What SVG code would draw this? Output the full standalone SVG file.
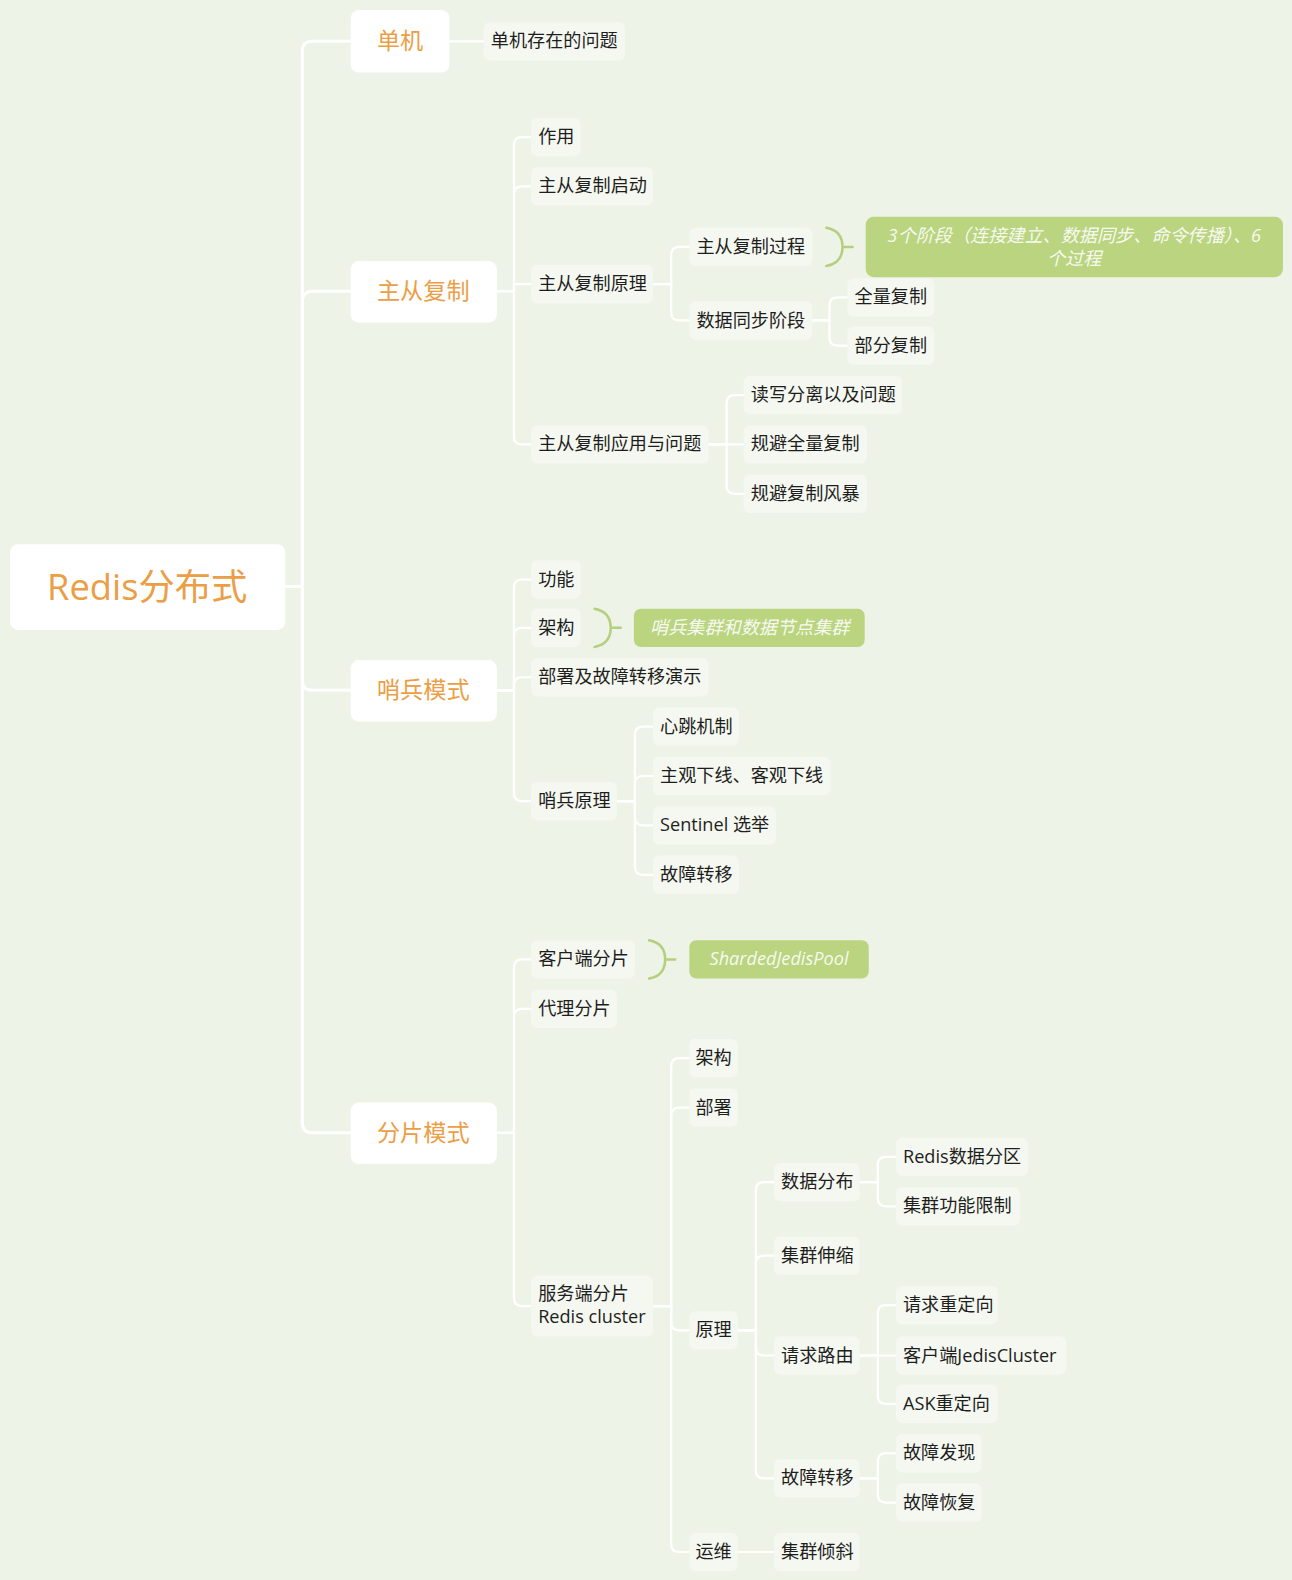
<svg xmlns="http://www.w3.org/2000/svg" width="1292" height="1580" viewBox="0 0 1292 1580">
<style>
text{font-family:"Open Sans","Noto Sans CJK SC",sans-serif}
.bg{fill:#eef3e7}
.main{fill:#ffffff}
.leaf{fill:#f5f8f0}
.t0{font-size:36px;fill:#eb9e45}
.t1{font-size:23px;fill:#eb9e45}
.t2{font-size:18px;fill:#1e1e1e}
.sum{fill:#bad480}
.ts{font-size:18px;fill:#ffffff;fill-opacity:0.9;font-style:italic}
.ln{fill:none;stroke:#ffffff;stroke-width:2.2;stroke-linecap:round}
.ln0{fill:none;stroke:#ffffff;stroke-width:3}
.br{fill:none;stroke:#b6cf7e;stroke-width:2.5;stroke-linecap:round}
</style>
<rect class="bg" x="0" y="0" width="1292" height="1580"/>
<g transform="scale(1.0078)">
<g id="connectors">
<path class="ln0" d="M283 582 H300 V51 Q300 41 310 41 H348"/>
<path class="ln0" d="M283 582 H300 V299 Q300 289 310 289 H348"/>
<path class="ln0" d="M283 582 H300 V675 Q300 685 310 685 H348"/>
<path class="ln0" d="M283 582 H300 V1114 Q300 1124 310 1124 H348"/>
<path class="ln" d="M446 41 H480"/>
<path class="ln" d="M493 289 H510 V144 Q510 136 518 136 H527"/>
<path class="ln" d="M493 289 H510 V193 Q510 185 518 185 H527"/>
<path class="ln" d="M493 289 H510 V282 H527"/>
<path class="ln" d="M493 289 H510 V433 Q510 441 518 441 H527"/>
<path class="ln" d="M648 282 H666 V253 Q666 245 674 245 H684"/>
<path class="ln" d="M648 282 H666 V310 Q666 318 674 318 H684"/>
<path class="ln" d="M806 318 H823 V303 Q823 295 831 295 H841"/>
<path class="ln" d="M806 318 H823 V335 Q823 343 831 343 H841"/>
<path class="ln" d="M703 441 H721 V400 Q721 392 729 392 H738"/>
<path class="ln" d="M703 441 H738"/>
<path class="ln" d="M703 441 H721 V482 Q721 490 729 490 H738"/>
<path class="ln" d="M493 685 H510 V583 Q510 575 518 575 H527"/>
<path class="ln" d="M493 685 H510 V631 Q510 623 518 623 H527"/>
<path class="ln" d="M493 685 H510 V680 Q510 672 518 672 H527"/>
<path class="ln" d="M493 685 H510 V787 Q510 795 518 795 H527"/>
<path class="ln" d="M612 795 H630 V729 Q630 721 638 721 H648"/>
<path class="ln" d="M612 795 H630 V778 Q630 770 638 770 H648"/>
<path class="ln" d="M612 795 H630 V811 Q630 819 638 819 H648"/>
<path class="ln" d="M612 795 H630 V860 Q630 868 638 868 H648"/>
<path class="ln" d="M493 1124 H510 V960 Q510 952 518 952 H527"/>
<path class="ln" d="M493 1124 H510 V1009 Q510 1001 518 1001 H527"/>
<path class="ln" d="M493 1124 H510 V1288 Q510 1296 518 1296 H527"/>
<path class="ln" d="M648 1296 H666 V1058 Q666 1050 674 1050 H684"/>
<path class="ln" d="M648 1296 H666 V1107 Q666 1099 674 1099 H684"/>
<path class="ln" d="M648 1296 H666 V1312 Q666 1320 674 1320 H684"/>
<path class="ln" d="M648 1296 H666 V1532 Q666 1540 674 1540 H684"/>
<path class="ln" d="M732 1320 H750 V1181 Q750 1173 758 1173 H768"/>
<path class="ln" d="M732 1320 H750 V1254 Q750 1246 758 1246 H768"/>
<path class="ln" d="M732 1320 H750 V1337 Q750 1345 758 1345 H768"/>
<path class="ln" d="M732 1320 H750 V1459 Q750 1467 758 1467 H768"/>
<path class="ln" d="M732 1540 H768"/>
<path class="ln" d="M853 1173 H871 V1156 Q871 1148 879 1148 H889"/>
<path class="ln" d="M853 1173 H871 V1189 Q871 1197 879 1197 H889"/>
<path class="ln" d="M853 1345 H871 V1303 Q871 1295 879 1295 H889"/>
<path class="ln" d="M853 1345 H889"/>
<path class="ln" d="M853 1345 H871 V1385 Q871 1393 879 1393 H889"/>
<path class="ln" d="M853 1467 H871 V1450 Q871 1442 879 1442 H889"/>
<path class="ln" d="M853 1467 H871 V1483 Q871 1491 879 1491 H889"/>
<path class="br" d="M820 226 Q836 229 836 245 Q836 261 820 264 M836 245 H846"/>
<path class="br" d="M590 604 Q606 607 606 623 Q606 639 590 642 M606 623 H616"/>
<path class="br" d="M644 933 Q660 936 660 952 Q660 968 644 971 M660 952 H670"/>
</g>
<g id="root"><rect class="main" x="10" y="540" width="273" height="85" rx="8"/><text class="t0" x="146" y="595" text-anchor="middle">Redis分布式</text></g>
<g id="n-danji"><rect class="main" x="348" y="10" width="98" height="62" rx="8"/><text class="t1" x="397" y="49" text-anchor="middle">单机</text></g>
<g id="n-zhucong"><rect class="main" x="348" y="259" width="145" height="61" rx="8"/><text class="t1" x="420" y="297" text-anchor="middle">主从复制</text></g>
<g id="n-shaobing"><rect class="main" x="348" y="655" width="145" height="61" rx="8"/><text class="t1" x="420" y="693" text-anchor="middle">哨兵模式</text></g>
<g id="n-fenpian"><rect class="main" x="348" y="1094" width="145" height="61" rx="8"/><text class="t1" x="420" y="1132" text-anchor="middle">分片模式</text></g>

<g id="n1"><rect class="leaf" x="480" y="22" width="140" height="38" rx="6"/><text class="t2" x="487" y="47">单机存在的问题</text></g>
<g id="n2"><rect class="leaf" x="527" y="117" width="49" height="38" rx="6"/><text class="t2" x="534" y="142">作用</text></g>
<g id="n3"><rect class="leaf" x="527" y="166" width="121" height="38" rx="6"/><text class="t2" x="534" y="191">主从复制启动</text></g>
<g id="n4"><rect class="leaf" x="527" y="263" width="121" height="38" rx="6"/><text class="t2" x="534" y="288">主从复制原理</text></g>
<g id="n5"><rect class="leaf" x="527" y="422" width="176" height="38" rx="6"/><text class="t2" x="534" y="447">主从复制应用与问题</text></g>
<g id="n6"><rect class="leaf" x="684" y="226" width="122" height="38" rx="6"/><text class="t2" x="691" y="251">主从复制过程</text></g>
<g id="n6s"><rect class="sum" x="859" y="215" width="414" height="60" rx="8"/><text class="ts" x="1066" y="240" text-anchor="middle">3个阶段（连接建立、数据同步、命令传播）、6</text><text class="ts" x="1066" y="263" text-anchor="middle">个过程</text></g>
<g id="n7"><rect class="leaf" x="684" y="299" width="122" height="38" rx="6"/><text class="t2" x="691" y="324">数据同步阶段</text></g>
<g id="n8"><rect class="leaf" x="841" y="276" width="86" height="38" rx="6"/><text class="t2" x="848" y="301">全量复制</text></g>
<g id="n9"><rect class="leaf" x="841" y="324" width="86" height="38" rx="6"/><text class="t2" x="848" y="349">部分复制</text></g>
<g id="n10"><rect class="leaf" x="738" y="373" width="157" height="38" rx="6"/><text class="t2" x="745" y="398">读写分离以及问题</text></g>
<g id="n11"><rect class="leaf" x="738" y="422" width="122" height="38" rx="6"/><text class="t2" x="745" y="447">规避全量复制</text></g>
<g id="n12"><rect class="leaf" x="738" y="471" width="122" height="38" rx="6"/><text class="t2" x="745" y="496">规避复制风暴</text></g>

<g id="n13"><rect class="leaf" x="527" y="556" width="49" height="38" rx="6"/><text class="t2" x="534" y="581">功能</text></g>
<g id="n14"><rect class="leaf" x="527" y="604" width="49" height="38" rx="6"/><text class="t2" x="534" y="629">架构</text></g>
<g id="n14s"><rect class="sum" x="629" y="604" width="229" height="38" rx="7"/><text class="ts" x="744" y="629" text-anchor="middle">哨兵集群和数据节点集群</text></g>
<g id="n15"><rect class="leaf" x="527" y="653" width="176" height="38" rx="6"/><text class="t2" x="534" y="678">部署及故障转移演示</text></g>
<g id="n16"><rect class="leaf" x="527" y="776" width="85" height="38" rx="6"/><text class="t2" x="534" y="801">哨兵原理</text></g>
<g id="n17"><rect class="leaf" x="648" y="702" width="85" height="38" rx="6"/><text class="t2" x="655" y="727">心跳机制</text></g>
<g id="n18"><rect class="leaf" x="648" y="751" width="176" height="38" rx="6"/><text class="t2" x="655" y="776">主观下线、客观下线</text></g>
<g id="n19"><rect class="leaf" x="648" y="800" width="122" height="38" rx="6"/><text class="t2" x="655" y="825">Sentinel 选举</text></g>
<g id="n20"><rect class="leaf" x="648" y="849" width="85" height="38" rx="6"/><text class="t2" x="655" y="874">故障转移</text></g>

<g id="n21"><rect class="leaf" x="527" y="933" width="103" height="38" rx="6"/><text class="t2" x="534" y="958">客户端分片</text></g>
<g id="n21s"><rect class="sum" x="684" y="933" width="178" height="38" rx="7"/><text class="ts" x="773" y="958" text-anchor="middle">ShardedJedisPool</text></g>
<g id="n22"><rect class="leaf" x="527" y="982" width="85" height="38" rx="6"/><text class="t2" x="534" y="1007">代理分片</text></g>
<g id="n23"><rect class="leaf" x="527" y="1266" width="121" height="60" rx="6"/><text class="t2" x="534" y="1290">服务端分片</text><text class="t2" x="534" y="1313">Redis cluster</text></g>
<g id="n24"><rect class="leaf" x="684" y="1031" width="48" height="38" rx="6"/><text class="t2" x="690" y="1056">架构</text></g>
<g id="n25"><rect class="leaf" x="684" y="1080" width="48" height="38" rx="6"/><text class="t2" x="690" y="1105">部署</text></g>
<g id="n26"><rect class="leaf" x="684" y="1301" width="48" height="38" rx="6"/><text class="t2" x="690" y="1326">原理</text></g>
<g id="n27"><rect class="leaf" x="684" y="1521" width="48" height="38" rx="6"/><text class="t2" x="690" y="1546">运维</text></g>
<g id="n28"><rect class="leaf" x="768" y="1154" width="85" height="38" rx="6"/><text class="t2" x="775" y="1179">数据分布</text></g>
<g id="n29"><rect class="leaf" x="768" y="1227" width="85" height="38" rx="6"/><text class="t2" x="775" y="1252">集群伸缩</text></g>
<g id="n30"><rect class="leaf" x="768" y="1326" width="85" height="38" rx="6"/><text class="t2" x="775" y="1351">请求路由</text></g>
<g id="n31"><rect class="leaf" x="768" y="1448" width="85" height="38" rx="6"/><text class="t2" x="775" y="1473">故障转移</text></g>
<g id="n32"><rect class="leaf" x="768" y="1521" width="85" height="38" rx="6"/><text class="t2" x="775" y="1546">集群倾斜</text></g>
<g id="n33"><rect class="leaf" x="889" y="1129" width="131" height="38" rx="6"/><text class="t2" x="896" y="1154">Redis数据分区</text></g>
<g id="n34"><rect class="leaf" x="889" y="1178" width="123" height="38" rx="6"/><text class="t2" x="896" y="1203">集群功能限制</text></g>
<g id="n35"><rect class="leaf" x="889" y="1276" width="101" height="38" rx="6"/><text class="t2" x="896" y="1301">请求重定向</text></g>
<g id="n36"><rect class="leaf" x="889" y="1326" width="169" height="38" rx="6"/><text class="t2" x="896" y="1351">客户端JedisCluster</text></g>
<g id="n37"><rect class="leaf" x="889" y="1374" width="101" height="38" rx="6"/><text class="t2" x="896" y="1399">ASK重定向</text></g>
<g id="n38"><rect class="leaf" x="889" y="1423" width="85" height="38" rx="6"/><text class="t2" x="896" y="1448">故障发现</text></g>
<g id="n39"><rect class="leaf" x="889" y="1472" width="85" height="38" rx="6"/><text class="t2" x="896" y="1497">故障恢复</text></g>
</g>
</svg>
